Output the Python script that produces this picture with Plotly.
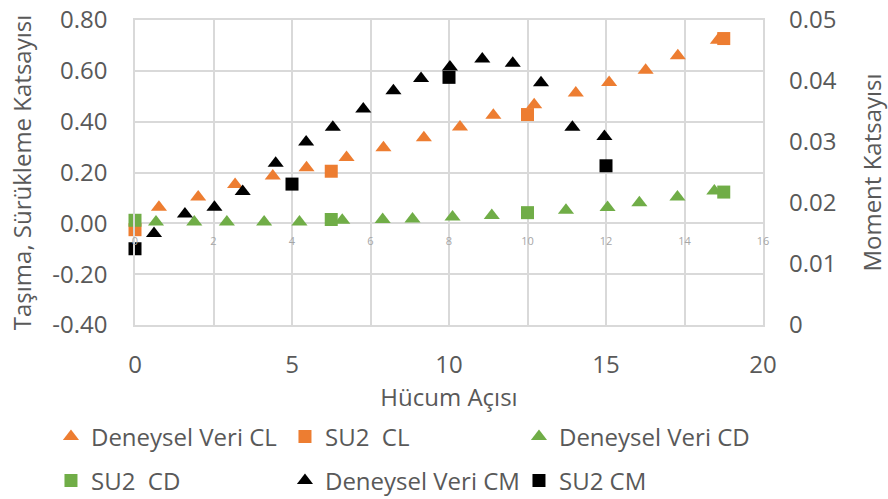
import plotly.graph_objects as go

# ---- data ----
cl_exp_x = [0.61, 1.61, 2.55, 3.51, 4.37, 5.39, 6.33, 7.36, 8.28, 9.13, 10.17, 11.23, 12.08, 13.01, 13.83, 14.85]
cl_exp_y = [0.063, 0.104, 0.153, 0.186, 0.219, 0.259, 0.297, 0.337, 0.379, 0.425, 0.467, 0.513, 0.554, 0.602, 0.659, 0.72]
su2_x = [0, 5, 10, 15]
su2_cl = [-0.025, 0.205, 0.428, 0.727]
cd_exp_x = [0.535, 1.51, 2.34, 3.29, 4.19, 5.28, 6.31, 7.07, 8.09, 9.09, 10.98, 12.04, 12.85, 13.82, 14.76]
cd_exp_y = [0.005, 0.005, 0.005, 0.005, 0.005, 0.012, 0.015, 0.017, 0.025, 0.031, 0.051, 0.062, 0.081, 0.104, 0.127]
su2_cd = [0.012, 0.015, 0.042, 0.123]
cm_exp_x = [0.605, 1.59, 2.53, 3.43, 4.48, 5.45, 6.3, 7.27, 8.23, 9.11, 10.03, 11.06, 12.03, 12.93, 13.93, 14.95]
cm_exp_y = [0.0150, 0.0182, 0.0193, 0.0219, 0.0265, 0.0300, 0.0324, 0.0354, 0.0384, 0.0404, 0.0423, 0.0436, 0.0429, 0.0397, 0.0324, 0.0309]
su2_cm = [0.0125, 0.0231, 0.0406, 0.0261]

left_ticks = [-0.4, -0.2, 0, 0.2, 0.4, 0.6, 0.8]
left_labels = ["-0.40", "-0.20", "0.00", "0.20", "0.40", "0.60", "0.80"]
right_ticks = [0, 0.01, 0.02, 0.03, 0.04, 0.05]
right_labels = ["0", "0.01", "0.02", "0.03", "0.04", "0.05"]
bottom_ticks = [0, 5, 10, 15, 20]
inner_ticks = [0, 2, 4, 6, 8, 10, 12, 14, 16]

ORANGE = "#ED7D31"
GREEN = "#70AD47"
BLACK = "#000000"
TXT = "#595959"
GRID = "#D9D9D9"
FONT = "Open Sans"
FS = 24

fig = go.Figure()

def add(x, y, name, color, symbol, xa, ya, leg):
    size = 14 if symbol == "triangle-up" else 13
    fig.add_trace(go.Scatter(
        x=x, y=y, name=name, mode="markers", xaxis=xa, yaxis=ya,
        marker=dict(color=color, symbol=symbol, size=size, line=dict(width=0)),
        cliponaxis=False, legend=leg))

# CL / CD on inner 0-16 axis (x) + left axis (y)
add(cl_exp_x, cl_exp_y, "Deneysel Veri CL", ORANGE, "triangle-up", "x", "y", "legend")
add(su2_x, su2_cl, "SU2  CL", ORANGE, "square", "x", "y", "legend")
add(cd_exp_x, cd_exp_y, "Deneysel Veri CD", GREEN, "triangle-up", "x", "y", "legend")
add(su2_x, su2_cd, "SU2  CD", GREEN, "square", "x", "y", "legend2")
# CM on bottom 0-20 axis (x2) + right axis (y2)
add(cm_exp_x, cm_exp_y, "Deneysel Veri CM", BLACK, "triangle-up", "x2", "y2", "legend2")
add(su2_x, su2_cm, "SU2 CM", BLACK, "square", "x2", "y2", "legend2")

leg_common = dict(orientation="h", entrywidth=189, entrywidthmode="pixels",
                  xanchor="left", yanchor="middle", x=-0.1338,
                  font=dict(family=FONT, size=FS, color=TXT),
                  bgcolor="rgba(0,0,0,0)", itemclick=False)

fig.update_layout(
    width=888, height=499,
    margin=dict(l=135, r=125, t=20, b=174, autoexpand=False),
    paper_bgcolor="white", plot_bgcolor="white",
    font=dict(family=FONT, color=TXT),
    xaxis=dict(range=[0, 16], tickvals=inner_ticks, anchor="free", position=1/3,
               side="bottom", showgrid=True, gridcolor=GRID, gridwidth=1.5,
               zeroline=False, showline=False, automargin=False,
               tickfont=dict(size=11, color="#A6A6A6"), ticklabelstandoff=10),
    xaxis2=dict(range=[0, 20], tickvals=bottom_ticks, overlaying="x", anchor="y",
                side="bottom", showgrid=False, zeroline=False, automargin=False,
                showline=True, mirror=True, linecolor=GRID, linewidth=1.5,
                tickfont=dict(size=FS, color=TXT), ticklabelstandoff=17,
                title=dict(text="Hücum Açısı", font=dict(size=FS, color=TXT), standoff=6)),
    yaxis=dict(range=[-0.4, 0.8], tickvals=left_ticks, ticktext=left_labels,
               showgrid=True, gridcolor=GRID, gridwidth=1.5, zeroline=False,
               showline=True, mirror=True, linecolor=GRID, linewidth=1.5, automargin=False,
               tickfont=dict(size=FS, color=TXT), ticklabelstandoff=21,
               ticklabeloverflow="allow",
               title=dict(text="Taşıma, Sürükleme Katsayısı", font=dict(size=FS, color=TXT), standoff=14)),
    yaxis2=dict(range=[0, 0.05], tickvals=right_ticks, ticktext=right_labels,
                overlaying="y", side="right", showgrid=False, zeroline=False, automargin=False,
                tickfont=dict(size=FS, color=TXT), ticklabelstandoff=25,
                ticklabeloverflow="allow",
                title=dict(text="Moment Katsayısı", font=dict(size=FS, color=TXT), standoff=31)),
    legend=dict(y=-0.367, **leg_common),
    legend2=dict(y=-0.5115, **leg_common),
)

fig.write_html("out.html", config={"displayModeBar": False},
               post_script="document.body.style.margin='0';")
